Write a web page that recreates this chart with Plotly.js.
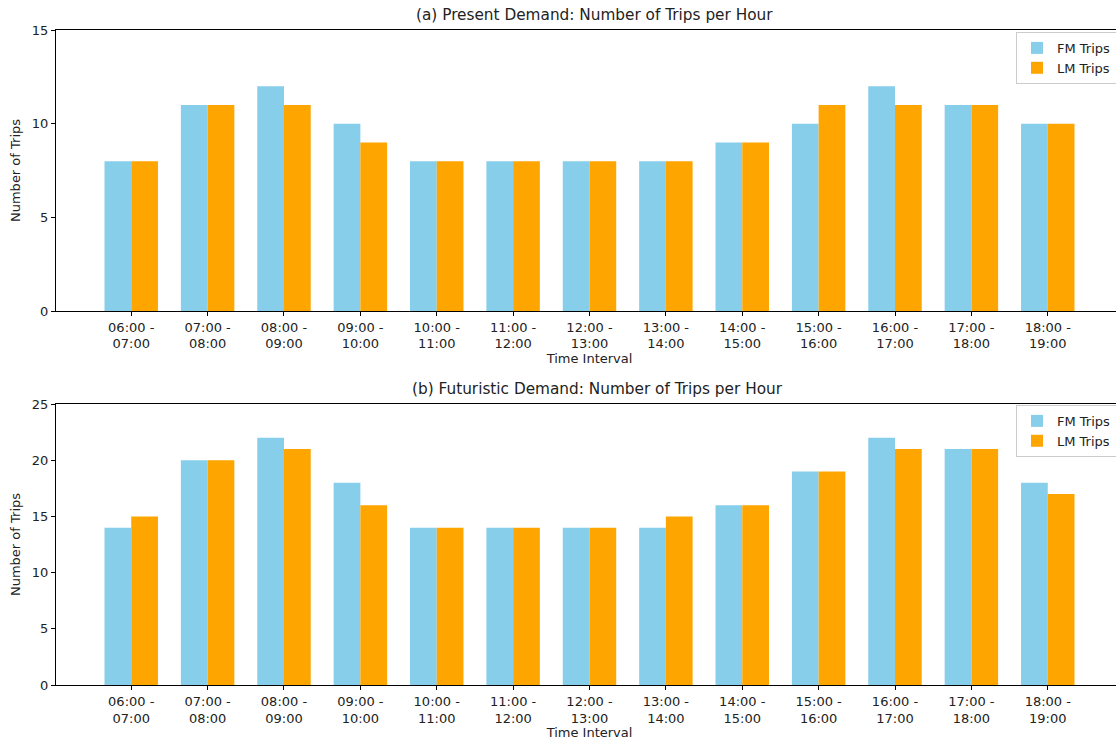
<!DOCTYPE html>
<html>
<head>
<meta charset="utf-8">
<script src="https://cdn.plot.ly/plotly-3.0.1.min.js"></script>
<style>
html,body{margin:0;padding:0;overflow:hidden;background:#fff;}
#chart{width:1125px;height:740px;}
</style>
</head>
<body>
<div id="chart"></div>
<script>
const intervals = ["06:00 -<br>07:00","07:00 -<br>08:00","08:00 -<br>09:00","09:00 -<br>10:00","10:00 -<br>11:00","11:00 -<br>12:00","12:00 -<br>13:00","13:00 -<br>14:00","14:00 -<br>15:00","15:00 -<br>16:00","16:00 -<br>17:00","17:00 -<br>18:00","18:00 -<br>19:00"];
const presentFM = [8, 11, 12, 10, 8, 8, 8, 8, 9, 10, 12, 11, 10];
const presentLM = [8, 11, 11, 9, 8, 8, 8, 8, 9, 11, 11, 11, 10];
const futureFM = [14, 20, 22, 18, 14, 14, 14, 14, 16, 19, 22, 21, 18];
const futureLM = [15, 20, 21, 16, 14, 14, 14, 15, 16, 19, 21, 21, 17];
const seriesNames = ["FM Trips", "LM Trips"];
const titles = ["(a) Present Demand: Number of Trips per Hour", "(b) Futuristic Demand: Number of Trips per Hour"];

const FONT = "DejaVu Sans, sans-serif";
const BW = 0.35;
function bar(y, name, color, xa, ya, off, leg) {
  return {type:"bar", x:intervals, y:y, name:name, xaxis:xa, yaxis:ya,
    width:BW, offset:off, marker:{color:color, line:{width:0}},
    legend:leg, showlegend:true, hoverinfo:"y"};
}
const data = [
  bar(presentFM, seriesNames[0], "#87CEEB", "x", "y", -BW, "legend"),
  bar(presentLM, seriesNames[1], "#FFA500", "x", "y", 0, "legend"),
  bar(futureFM, seriesNames[0], "#87CEEB", "x2", "y2", -BW, "legend2"),
  bar(futureLM, seriesNames[1], "#FFA500", "x2", "y2", 0, "legend2")
];

const FS = 13;
const axCommon = {showline:true, mirror:true, linecolor:"#000", linewidth:1,
  ticks:"outside", ticklen:4, tickcolor:"#000", showgrid:false, zeroline:false,
  tickfont:{family:FONT, size:FS, color:"#222"}, fixedrange:true};
const xr = [-0.985, 12.985];
const legCommon = {xanchor:"left", yanchor:"top", bgcolor:"rgba(255,255,255,0.8)",
  bordercolor:"#ccc", borderwidth:1, font:{family:FONT, size:FS}, traceorder:"normal"};
const layout = {
  width:1125, height:740,
  margin:{l:56, r:2, t:30, b:55},
  paper_bgcolor:"#fff", plot_bgcolor:"#fff",
  font:{family:FONT, color:"#222"},
  barmode:"overlay",
  xaxis:Object.assign({}, axCommon, {type:"category", range:xr, anchor:"y",
    title:{text:"Time Interval", font:{family:FONT, size:FS}, standoff:2}}),
  yaxis:Object.assign({}, axCommon, {domain:[0.571,1], range:[0,15], tickvals:[0,5,10,15], anchor:"x",
    title:{text:"Number of Trips", font:{family:FONT, size:FS}, standoff:8}}),
  xaxis2:Object.assign({}, axCommon, {type:"category", range:xr, anchor:"y2",
    title:{text:"Time Interval", font:{family:FONT, size:FS}, standoff:2}}),
  yaxis2:Object.assign({}, axCommon, {domain:[0,0.429], range:[0,25], tickvals:[0,5,10,15,20,25], anchor:"x2",
    title:{text:"Number of Trips", font:{family:FONT, size:FS}, standoff:8}}),
  legend:Object.assign({}, legCommon, {x:0.8997, y:0.997}),
  legend2:Object.assign({}, legCommon, {x:0.8997, y:0.4276}),
  annotations:[
    {text:titles[0], xref:"paper", yref:"paper", x:0.5, y:1, yanchor:"bottom", yshift:4, xshift:5, showarrow:false,
     font:{family:FONT, size:15.3, color:"#222"}},
    {text:titles[1], xref:"paper", yref:"paper", x:0.5, y:0.429, yanchor:"bottom", yshift:4, xshift:8, showarrow:false,
     font:{family:FONT, size:15.3, color:"#222"}}
  ]
};
Plotly.newPlot("chart", data, layout, {displayModeBar:false, staticPlot:true});
</script>
</body>
</html>
